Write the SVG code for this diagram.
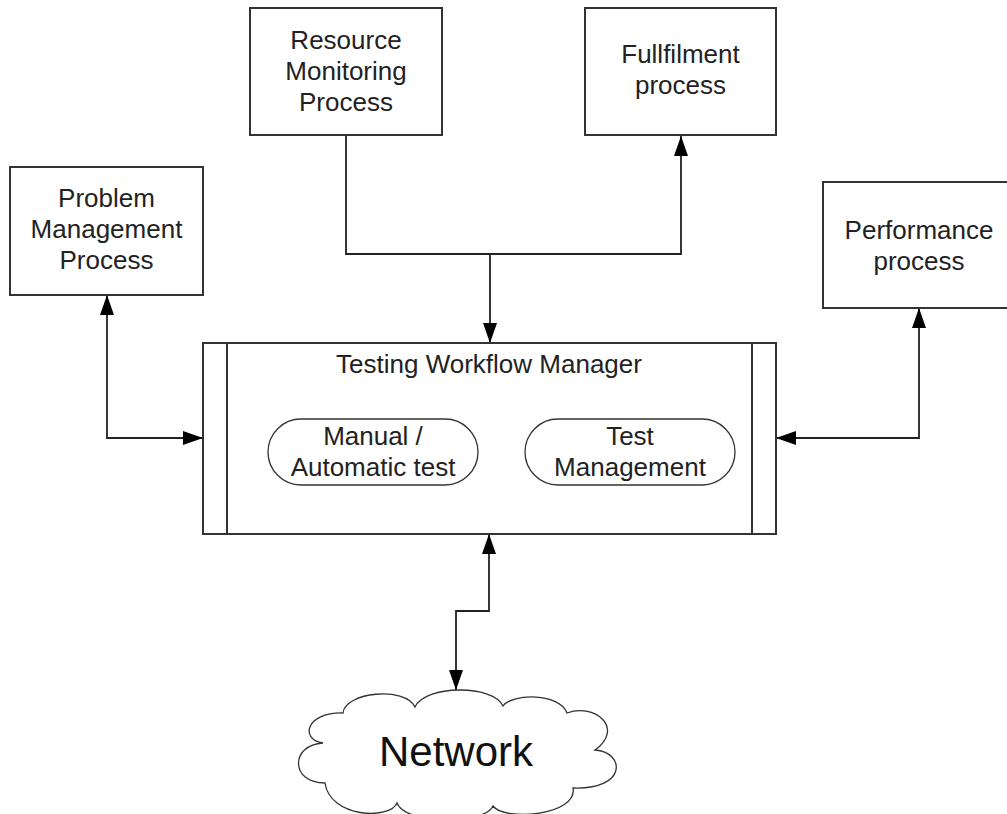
<svg xmlns="http://www.w3.org/2000/svg" width="1007" height="814" viewBox="0 0 1007 814">
  <style>
    .box { fill: #fff; stroke: #333; stroke-width: 2; }
    .pill { fill: #fff; stroke: #333; stroke-width: 1.3; }
    .lbl { font-family: "Liberation Sans", Arial, sans-serif; font-size: 26px; fill: #222; text-anchor: middle; }
    .big { font-size: 42px; fill: #111; }
    .wire { fill: none; stroke: #222; stroke-width: 1.8; }
  </style>
  <defs>
    <marker id="arrow" markerUnits="userSpaceOnUse" markerWidth="20" markerHeight="14" refX="20" refY="7" orient="auto-start-reverse">
      <path d="M0,0 L20,7 L0,14 Z" fill="#000"/>
    </marker>
  </defs>
  <rect width="1007" height="814" fill="#fff"/>

  <g id="connectors">
    <!-- resource monitoring feeds both the fulfilment process and the workflow manager -->
    <path class="wire" d="M346,135 V254 H681 V136" marker-end="url(#arrow)"/>
    <path class="wire" d="M490,254 V343" marker-end="url(#arrow)"/>
    <!-- two-way links -->
    <path class="wire" d="M107,295 V438 H203" marker-start="url(#arrow)" marker-end="url(#arrow)"/>
    <path class="wire" d="M919,308 V438 H776" marker-start="url(#arrow)" marker-end="url(#arrow)"/>
    <path class="wire" d="M489,534 V611 H456 V690" marker-start="url(#arrow)" marker-end="url(#arrow)"/>
  </g>

  <g id="resource-monitoring">
    <rect class="box" x="250" y="8" width="192" height="127"/>
    <text class="lbl" x="346" y="49">Resource</text>
    <text class="lbl" x="346" y="80">Monitoring</text>
    <text class="lbl" x="346" y="111">Process</text>
  </g>

  <g id="fulfilment">
    <rect class="box" x="585" y="8" width="191" height="127"/>
    <text class="lbl" x="680.5" y="63">Fullfilment</text>
    <text class="lbl" x="680.5" y="94">process</text>
  </g>

  <g id="problem-management">
    <rect class="box" x="10" y="167" width="193" height="128"/>
    <text class="lbl" x="106.5" y="207">Problem</text>
    <text class="lbl" x="106.5" y="238">Management</text>
    <text class="lbl" x="106.5" y="269">Process</text>
  </g>

  <g id="performance">
    <rect class="box" x="823" y="182" width="200" height="126"/>
    <text class="lbl" x="919" y="239">Performance</text>
    <text class="lbl" x="919" y="270">process</text>
  </g>

  <g id="testing-workflow-manager">
    <rect class="box" x="203" y="343" width="573" height="191"/>
    <line class="box" x1="227" y1="343" x2="227" y2="534"/>
    <line class="box" x1="752" y1="343" x2="752" y2="534"/>
    <text class="lbl" x="489" y="373">Testing Workflow Manager</text>
  </g>

  <g id="manual-automatic-test">
    <rect class="pill" x="268" y="419" width="210" height="66" rx="33" ry="33"/>
    <text class="lbl" x="373" y="445">Manual /</text>
    <text class="lbl" x="373" y="476">Automatic test</text>
  </g>

  <g id="test-management">
    <rect class="pill" x="525" y="419" width="210" height="66" rx="33" ry="33"/>
    <text class="lbl" x="630" y="445">Test</text>
    <text class="lbl" x="630" y="476">Management</text>
  </g>

  <g id="network">
    <path class="pill" d="M343,713 C345,692 405,686 415,707 C425,685 493,684 503,706 C512,693 560,693 567,713 C595,703 625,728 595,750 C625,752 628,790 573,788 C578,815 505,822 493,806 C485,825 405,825 397,803 C390,820 330,818 325,783 C290,783 290,745 323,743 C300,740 305,712 343,713 Z"/>
    <text class="lbl big" x="456" y="766">Network</text>
  </g>
</svg>
